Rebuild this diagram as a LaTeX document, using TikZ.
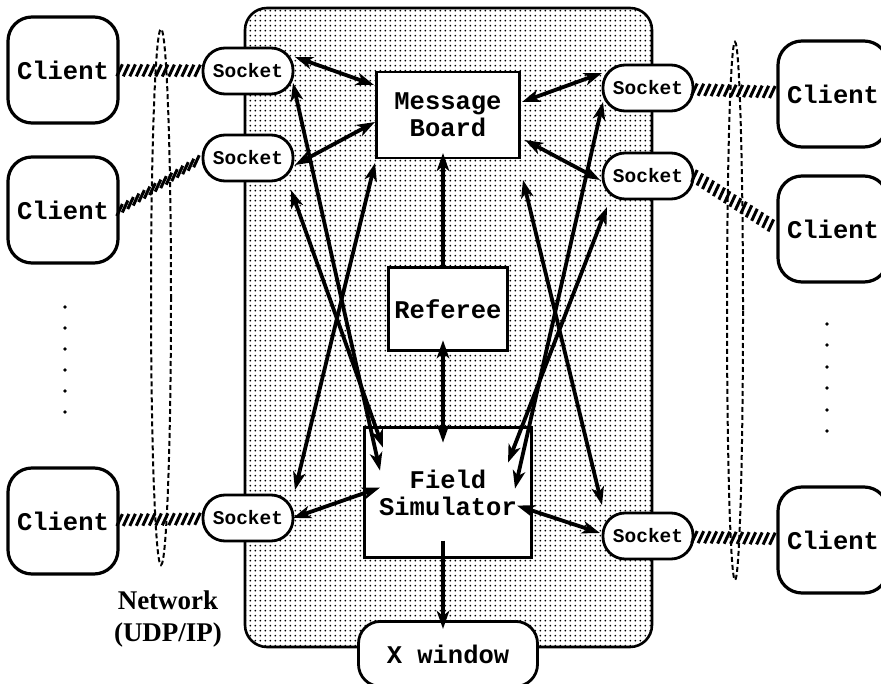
\documentclass[tikz,border=0pt]{standalone}
\usepackage{fontspec}
\setmainfont{Liberation Serif}
\newfontfamily\codefont{Liberation Mono}
\usetikzlibrary{positioning,calc,arrows.meta,patterns,decorations.markings}

\pgfdeclarepatternformonly{stipple}{\pgfpointorigin}{\pgfqpoint{5.3pt}{5.3pt}}{\pgfqpoint{5.3pt}{5.3pt}}{%
  \pgfpathcircle{\pgfqpoint{2.65pt}{2.65pt}}{1.1pt}\pgfusepath{fill}}

\tikzset{
  box/.style={draw, line width=2.8pt, fill=white, align=center,
    font=\codefont\bfseries\fontsize{25.5}{27}\selectfont},
  client/.style={box, line width=3.2pt, rounded corners=24pt, minimum width=110pt, minimum height=106pt},
  socket/.style={draw, line width=2.8pt, fill=white, rounded corners=22pt,
    minimum width=90pt, minimum height=46pt, font=\codefont\bfseries\fontsize{19.5}{20}\selectfont},
  tip/.tip={Stealth[length=18pt,width=12.5pt,inset=5pt]},
  duplex/.style={line width=3.8pt, tip-tip},
  feed/.style={line width=3.8pt, -tip},
  hatch/.style={decoration={markings, mark=between positions 0 and 1 step 6.5pt with
    {\pgftransformresetnontranslations\draw[line width=3pt] (-2.8pt,-6pt) -- (2.8pt,6pt);}},
    decorate},
  netring/.style={dash pattern=on 5pt off 3pt, line width=2pt}
}

\begin{document}
\begin{tikzpicture}[x=1pt, y=-1pt]
            \useasboundingbox (0,0) rectangle (881,684);
            \draw[line width=2.6pt, rounded corners=22pt, pattern=stipple] (245,8) rectangle (652,647);

            \draw[netring] (161,297) ellipse [x radius=10, y radius=268];
            \draw[netring] (735,311) ellipse [x radius=8, y radius=269];
            \foreach \y in {307,328,349,370,391,412}
                \fill (65,\y) circle (1.8);
            \foreach \y in {324,345,367,388,410,431}
                \fill (827,\y) circle (1.8);

            \node[client] (cl1) at (63,70) {Client};
            \node[client] (cl2) at (63,210) {Client};
            \node[client] (cl3) at (63,521) {Client};
            \node[client] (cr1) at (833,94) {Client};
            \node[client] (cr2) at (833,229) {Client};
            \node[client] (cr3) at (833,540) {Client};

            \node[socket] (sl1) at (248,71) {Socket};
            \node[socket] (sl2) at (248,158) {Socket};
            \node[socket] (sl3) at (248,518) {Socket};
            \node[socket] (sr1) at (648,88) {Socket};
            \node[socket] (sr2) at (648,176) {Socket};
            \node[socket] (sr3) at (648,536) {Socket};

            \node[box, minimum width=143pt, minimum height=86pt] (mb) at (448,115) {Message\\Board};
            \node[box, minimum width=119pt, minimum height=83pt, below=107pt of mb] (ref) {Referee};
            \node[box, minimum width=167pt, minimum height=130pt, below=74pt of ref] (fs) {Field\\Simulator};
            \node[box, rounded corners=22pt, minimum width=179pt, minimum height=65pt, below=61pt of fs] (xw) {X window};

            \path[hatch] (cl1) -- (sl1);
            \path[hatch] (cl2.east) -- (sl2.west);
            \path[hatch] (cl3) -- (sl3);
            \path[hatch] (sr1) -- (cr1);
            \path[hatch] (sr2.east) -- (cr2.west);
            \path[hatch] (sr3) -- (cr3);

            \draw[duplex] ($(sl1)+(47,-14)$) -- ($(mb)+(-74,-30)$);
            \draw[duplex] ($(sl2)+(47,7)$) -- ($(mb)+(-73,7)$);
            \draw[duplex] ($(sl1)+(45,12)$) -- ($(fs)+(-68,-22)$);
            \draw[duplex] ($(sl2)+(43,32)$) -- ($(fs)+(-65,-45)$);
            \draw[duplex] ($(mb)+(-73,48)$) -- ($(sl3)+(47,-28)$);
            \draw[duplex] ($(sl3)+(45,0)$) -- ($(fs)+(-68,-5)$);

            \draw[feed] ($(ref)+(-5,-41)$) -- ($(mb)+(-5,38)$);
            \draw[duplex] ($(ref)+(-5,31)$) -- ($(fs)+(-5,-50)$);
            \draw[feed] ($(fs)+(-5,48)$) -- ($(xw)+(-5,-25)$);

            \draw[duplex] ($(sr1)+(-46,-15)$) -- ($(mb)+(74,-13)$);
            \draw[duplex] ($(sr2)+(-48,4)$) -- ($(mb)+(77,25)$);
            \draw[duplex] ($(sr1)+(-45,14)$) -- ($(fs)+(67,-4)$);
            \draw[duplex] ($(sr2)+(-41,31)$) -- ($(fs)+(60,-30)$);
            \draw[duplex] ($(mb)+(75,65)$) -- ($(sr3)+(-46,-31)$);
            \draw[duplex] ($(sr3)+(-48,-3)$) -- ($(fs)+(69,13)$);

            \node[font=\bfseries\fontsize{27}{32}\selectfont, align=center] (net) at (168,619) {Network\\(UDP/IP)};
        \end{tikzpicture}
\end{document}
